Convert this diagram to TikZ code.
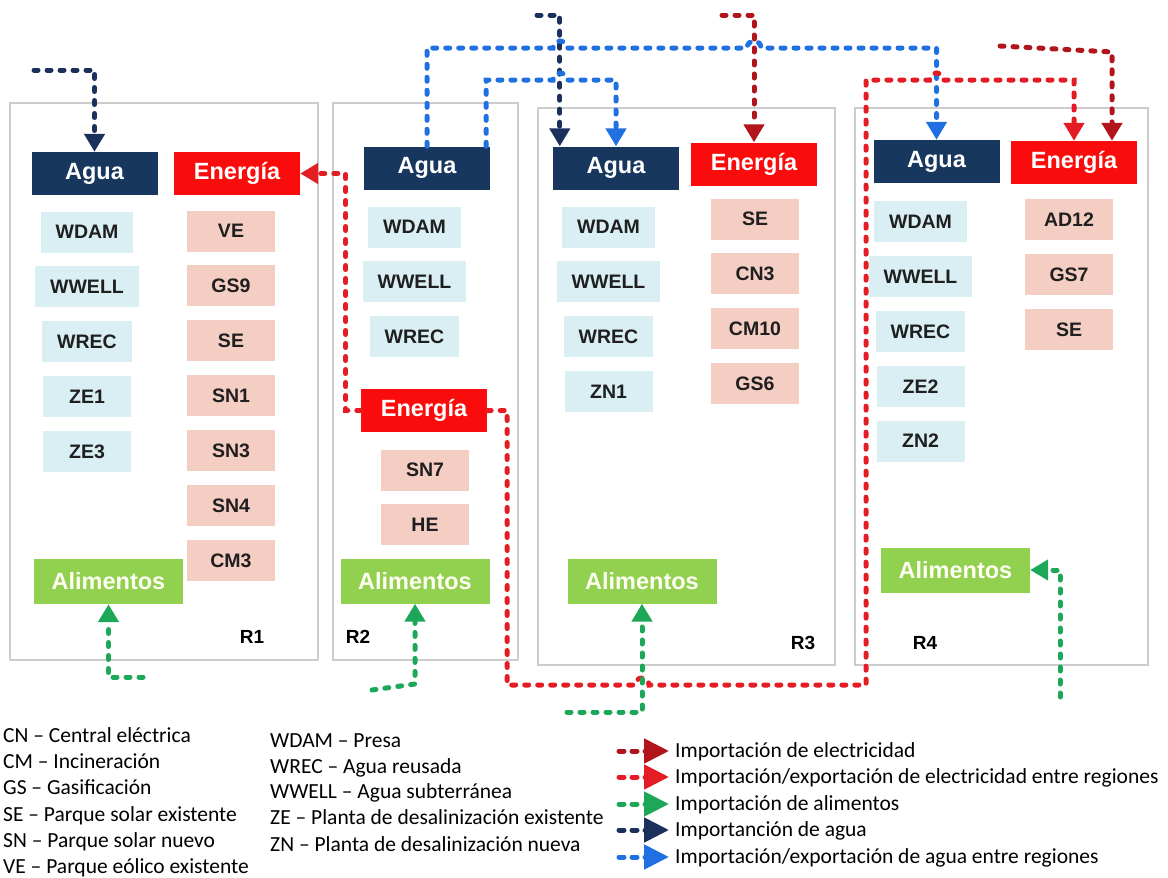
\documentclass[tikz,border=0pt]{standalone}
\usepackage{fontspec}
\setmainfont{Liberation Sans}
\newfontfamily\leyenda{Carlito}
\usepackage{tikz}
\usetikzlibrary{arrows.meta,positioning,calc}
\definecolor{cagua}{RGB}{23,55,94}
\definecolor{cener}{RGB}{250,12,12}
\definecolor{calim}{RGB}{146,208,80}
\definecolor{citagua}{RGB}{218,239,244}
\definecolor{citener}{RGB}{244,205,195}
\definecolor{felec}{RGB}{178,20,28}
\definecolor{fereg}{RGB}{228,28,36}
\definecolor{falim}{RGB}{28,168,88}
\definecolor{fagua}{RGB}{28,48,92}
\definecolor{fareg}{RGB}{32,112,226}
\tikzset{
	cab/.style = {align=center, inner sep=0pt, text=white,
		font=\bfseries\fontsize{23.5}{26}\selectfont,
		minimum width=126pt, minimum height=43pt},
	cab_a/.style = {cab, fill=cagua},% cabecera agua
	cab_e/.style = {cab, fill=cener},% cabecera energia
	cab_al/.style = {cab, fill=calim, text=white!95!yellow,
		minimum width=149pt, minimum height=45pt},% alimentos
	it/.style = {inner xsep=15pt, inner ysep=0pt, text=black!88,
		font=\bfseries\fontsize{19.5}{21}\selectfont,
		minimum width=88pt, minimum height=41pt},
	it_a/.style = {it, fill=citagua},% tecnologia de agua
	it_e/.style = {it, fill=citener},% tecnologia de energia
	reg/.style = {draw=black!20, line width=1.2pt},% region
	etiq/.style = {inner sep=0pt, font=\bfseries\fontsize{19}{21}\selectfont},
	flujo/.style = {line width=5pt, dash pattern=on 4pt off 9pt, line cap=round,
		-{Triangle[length=18pt,width=20pt]}},
	f_elec/.style = {flujo, color=felec},% importacion electricidad
	f_ereg/.style = {flujo, color=fereg},% entre regiones
	f_alim/.style = {flujo, color=falim},% importacion alimentos
	f_agua/.style = {flujo, color=fagua},% importacion agua
	f_areg/.style = {flujo, color=fareg},% agua entre regiones
	muestra/.style = {dash pattern=on 5pt off 8pt, -{Triangle[length=25pt,width=24pt]}},
	ley/.style = {anchor=base west, inner sep=0pt,
		font=\leyenda\fontsize{21.5}{24}\selectfont}
}

\begin{document}
\begin{tikzpicture}[x=1pt,y=-1pt,node distance=13.5pt]
\useasboundingbox (0,0) rectangle (1168,878);
% regiones
\draw[reg] (10,103) rectangle (318,660);
\draw[reg] (333,103) rectangle (518,660);
\draw[reg] (538,108) rectangle (835,665);
\draw[reg] (855,108) rectangle (1148,665);
\node[etiq] (r1) at (252,637) {R1};
\node[etiq] (r2) at (358,637) {R2};
\node[etiq] (r3) at (803,643) {R3};
\node[etiq] (r4) at (925,643) {R4};

% R1
\node[cab_a] (a1) at (94.5,173.5) {Agua};
\node[cab_e] (e1) at (237,173.5) {Energía};
\node[it_a] (wdam1) at (87,232) {WDAM};
\node[it_a, below=of wdam1] (wwell1) {WWELL};
\node[it_a, below=of wwell1] (wrec1) {WREC};
\node[it_a, below=of wrec1] (ze1) {ZE1};
\node[it_a, below=of ze1] (ze3) {ZE3};
\node[it_e] (ve1) at (231,231) {VE};
\node[it_e, below=of ve1] (gs9) {GS9};
\node[it_e, below=of gs9] (se1) {SE};
\node[it_e, below=of se1] (sn1) {SN1};
\node[it_e, below=of sn1] (sn3) {SN3};
\node[it_e, below=of sn3] (sn4) {SN4};
\node[it_e, below=of sn4] (cm3) {CM3};
\node[cab_al] (al1) at (108.5,581.5) {Alimentos};

% R2
\node[cab_a] (a2) at (427,168) {Agua};
\node[it_a] (wdam2) at (414.5,227) {WDAM};
\node[it_a, below=of wdam2] (wwell2) {WWELL};
\node[it_a, below=of wwell2] (wrec2) {WREC};
\node[cab_e] (e2) at (424,410.5) {Energía};
\node[it_e] (sn7) at (425,470) {SN7};
\node[it_e, below=of sn7] (he2) {HE};
\node[cab_al] (al2) at (415,581) {Alimentos};

% R3
\node[cab_a] (a3) at (616,168) {Agua};
\node[cab_e] (e3) at (754,164) {Energía};
\node[it_a] (wdam3) at (608.5,227) {WDAM};
\node[it_a, below=of wdam3] (wwell3) {WWELL};
\node[it_a, below=of wwell3] (wrec3) {WREC};
\node[it_a, below=of wrec3] (zn1) {ZN1};
\node[it_e] (se3) at (755,219) {SE};
\node[it_e, below=of se3] (cn3) {CN3};
\node[it_e, below=of cn3] (cm10) {CM10};
\node[it_e, below=of cm10] (gs6) {GS6};
\node[cab_al] (al3) at (642,581) {Alimentos};

% R4
\node[cab_a] (a4) at (936.5,161.5) {Agua};
\node[cab_e] (e4) at (1074,162.5) {Energía};
\node[it_a] (wdam4) at (920.5,221.5) {WDAM};
\node[it_a, below=of wdam4] (wwell4) {WWELL};
\node[it_a, below=of wwell4] (wrec4) {WREC};
\node[it_a, below=of wrec4] (ze2) {ZE2};
\node[it_a, below=of ze2] (zn2) {ZN2};
\node[it_e] (ad12) at (1069,219.5) {AD12};
\node[it_e, below=of ad12] (gs7) {GS7};
\node[it_e, below=of gs7] (se4) {SE};
\node[cab_al] (al4) at (955.5,570) {Alimentos};

% entradas externas
\coordinate (ia1) at (34,70);
\coordinate (ia3) at (537,15);
\coordinate (ie3) at (722,15);
\coordinate (ie4) at (1000,46);
\coordinate (ce4) at (1112,52);
\coordinate (iv1) at (143,677);
\coordinate (iv2) at (372,690);
\coordinate (iv3) at (567,712);
\coordinate (iv4) at (1060,697);

% agua
\draw[f_agua] (ia1) -| (a1);
\draw[f_agua] (ia3) -| ($(a3.north west)+(7,0)$);
\draw[f_areg] (a2.north) |- (553,48) arc[start angle=180,end angle=360,radius=7]
	-- (747,48) arc[start angle=180,end angle=360,radius=7] -| (a4.north);
\draw[f_areg] ($(a2.north east)+(-4,0)$) |- (553,80)
	arc[start angle=180,end angle=360,radius=7] -| (a3.north);

% electricidad
\draw[f_elec] (ie3) -| (e3);
\draw[f_elec] (ie4) -- (ce4) -- (ce4 |- e4.north);
\draw[f_ereg] (e2.west) -- ++(-15,0) |- (e1.east);
\draw[f_ereg] (e2.east) -- ++(20,0) |- (635,685) arc[start angle=180,end angle=360,radius=7]
	-- (866,685) |- (929.5,80) arc[start angle=180,end angle=360,radius=7] -| (e4.north);

% alimentos
\draw[f_alim] (iv1) -| (al1);
\draw[f_alim] (iv2) -- ++(43,-6) -- (al2.south);
\draw[f_alim] (iv3) -| (al3);
\draw[f_alim] (iv4) |- (al4.east);

% leyenda
\node[ley] (l_cn) at (3,742) {CN – Central eléctrica};
\node[ley] (l_cm) at (3,768) {CM – Incineración};
\node[ley] (l_gs) at (3,794) {GS – Gasificación};
\node[ley] (l_se) at (3,821) {SE – Parque solar existente};
\node[ley] (l_sn) at (3,847) {SN – Parque solar nuevo};
\node[ley] (l_ve) at (3,873) {VE – Parque eólico existente};
\node[ley] (l_wdam) at (270,747) {WDAM – Presa};
\node[ley] (l_wrec) at (270,773) {WREC – Agua reusada};
\node[ley] (l_wwell) at (270,798) {WWELL – Agua subterránea};
\node[ley] (l_ze) at (270,824) {ZE – Planta de desalinización existente};
\node[ley] (l_zn) at (270,851) {ZN – Planta de desalinización nueva};

\draw[f_elec, muestra] (619,751) -- (669,751);
\draw[f_ereg, muestra] (619,777) -- (669,777);
\draw[f_alim, muestra] (619,804) -- (669,804);
\draw[f_agua, muestra] (619,830) -- (669,830);
\draw[f_areg, muestra] (619,857) -- (669,857);
\node[ley] (l_1) at (675,757) {Importación de electricidad};
\node[ley] (l_2) at (675,783) {Importación/exportación de electricidad entre regiones};
\node[ley] (l_3) at (675,810) {Importación de alimentos};
\node[ley] (l_4) at (675,836) {Importanción de agua};
\node[ley] (l_5) at (675,863) {Importación/exportación de agua entre regiones};
\end{tikzpicture}
\end{document}
